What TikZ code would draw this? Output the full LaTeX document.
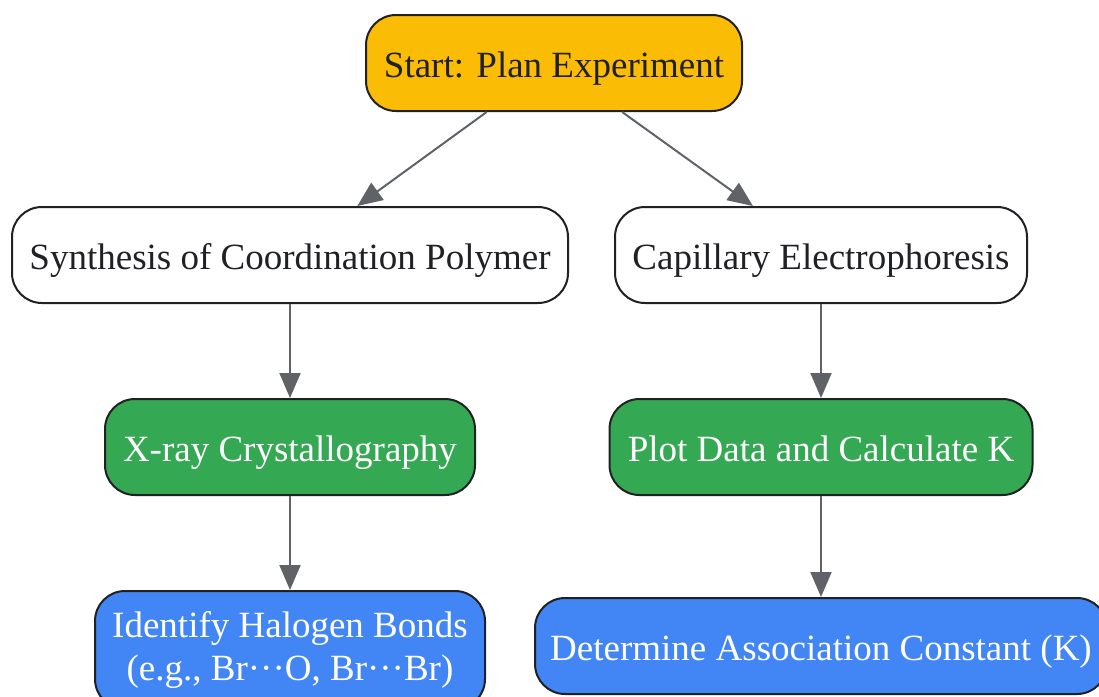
\documentclass[tikz,border=0pt]{standalone}
\usepackage{fontspec}
\setmainfont{Liberation Serif}
\usetikzlibrary{arrows.meta}
\definecolor{ink}{HTML}{202124}
\definecolor{edge}{HTML}{5F6368}
\definecolor{gyellow}{HTML}{FBBC05}
\definecolor{ggreen}{HTML}{34A853}
\definecolor{gblue}{HTML}{4285F4}
\tikzset{
  box/.style={draw=ink, line width=2pt, rounded corners=30pt, minimum height=96pt,
    inner sep=0pt, align=center, font=\fontsize{37}{43}\selectfont},
  oneline/.style={text height=34pt, text depth=6pt},
  startbox/.style={box, oneline, fill=gyellow, text=ink},
  plainbox/.style={box, oneline, fill=white, text=ink},
  greenbox/.style={box, oneline, fill=ggreen, text=white},
  bluebox/.style={box, fill=gblue, text=white},
  conn/.style={draw=edge, line width=2pt, -{Triangle[length=25pt,width=21pt]}},
}
\begin{document}
\begin{tikzpicture}[x=1pt,y=-1pt]
\useasboundingbox (0,0) rectangle (1099,696);
\node[startbox, minimum width=376pt] (start) at (554,63) {Start: Plan Experiment};
\node[plainbox, minimum width=556pt] (syn) at (290,255) {Synthesis of Coordination Polymer};
\node[plainbox, minimum width=412pt] (ce) at (821,255) {Capillary Electrophoresis};
\node[greenbox, minimum width=370pt] (xray) at (290,447) {X-ray Crystallography};
\node[greenbox, minimum width=423pt] (plot) at (821,447) {Plot Data and Calculate K};
\node[bluebox, minimum width=390pt, minimum height=118pt] (halo) at (290,650) {Identify Halogen Bonds\\(e.g., Br···O, Br···Br)};
\node[bluebox, oneline, minimum width=572pt] (assoc) at (821,646) {Determine Association Constant (K)};
\draw[conn] (start) -- (syn);
\draw[conn] (start) -- (ce);
\draw[conn] (syn) -- (xray);
\draw[conn] (ce) -- (plot);
\draw[conn] (xray) -- (halo);
\draw[conn] (plot) -- (assoc);
\end{tikzpicture}
\end{document}
